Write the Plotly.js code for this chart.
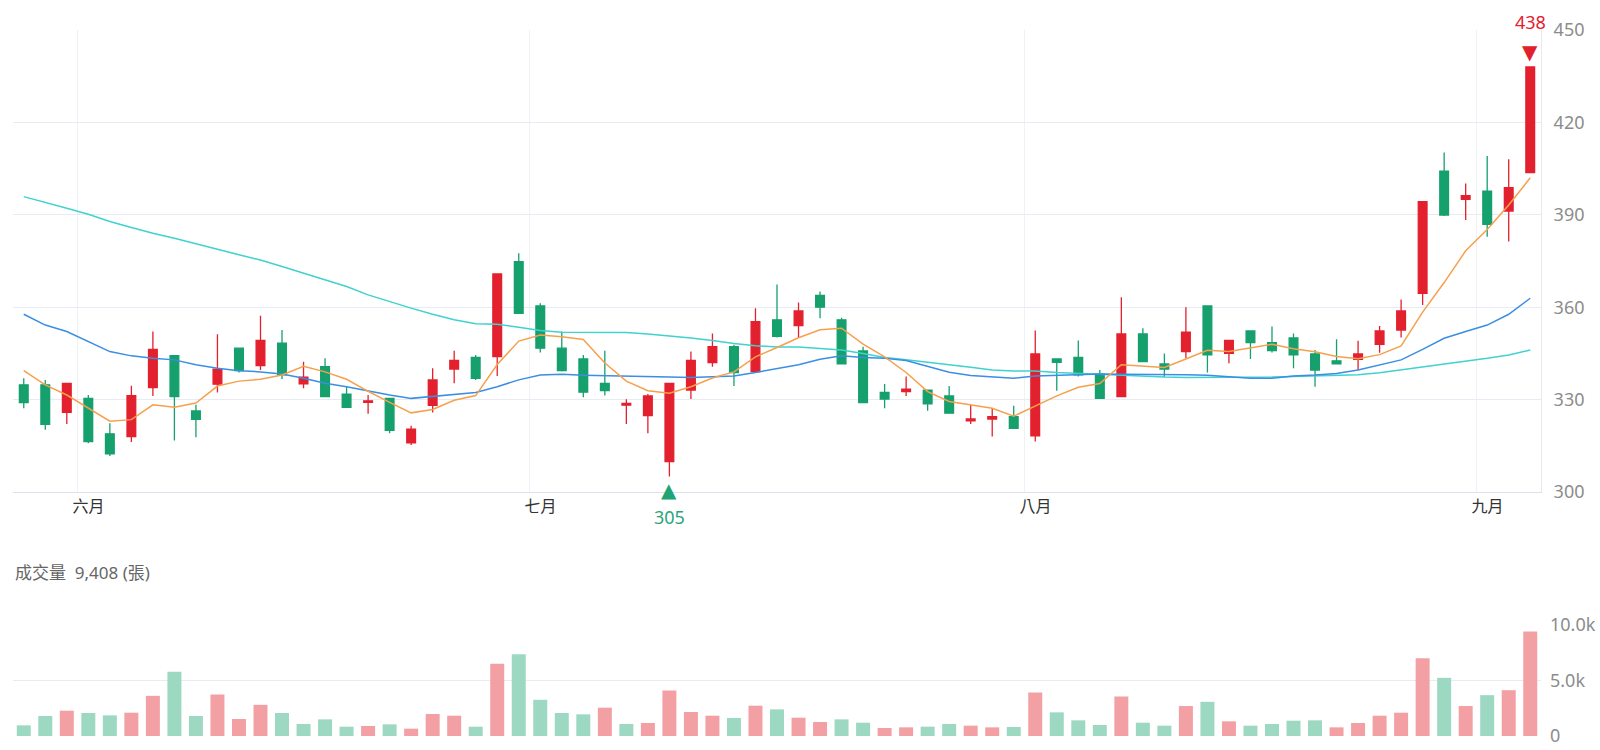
<!DOCTYPE html>
<html>
<head>
<meta charset="utf-8">
<script src="https://cdn.plot.ly/plotly-3.0.1.min.js"></script>
<style>html,body{margin:0;padding:0;background:#fff;}#chart{width:1600px;height:750px;}</style>
</head>
<body>
<div id="chart"></div>
<script>
// Trading days (2025-05-27 .. 2025-09-03)
const dates = [
  "2025-05-27","2025-05-28","2025-05-29",
  "2025-06-02","2025-06-03","2025-06-04","2025-06-05","2025-06-06",
  "2025-06-09","2025-06-10","2025-06-11","2025-06-12","2025-06-13",
  "2025-06-16","2025-06-17","2025-06-18","2025-06-19","2025-06-20",
  "2025-06-23","2025-06-24","2025-06-25","2025-06-26","2025-06-27","2025-06-30",
  "2025-07-01","2025-07-02","2025-07-03","2025-07-04",
  "2025-07-07","2025-07-08","2025-07-09","2025-07-10","2025-07-11",
  "2025-07-14","2025-07-15","2025-07-16","2025-07-17","2025-07-18",
  "2025-07-21","2025-07-22","2025-07-23","2025-07-24","2025-07-25",
  "2025-07-28","2025-07-29","2025-07-30","2025-07-31",
  "2025-08-01",
  "2025-08-04","2025-08-05","2025-08-06","2025-08-07","2025-08-08",
  "2025-08-11","2025-08-12","2025-08-13","2025-08-14","2025-08-15",
  "2025-08-18","2025-08-19","2025-08-20","2025-08-21","2025-08-22",
  "2025-08-25","2025-08-26","2025-08-27","2025-08-28","2025-08-29",
  "2025-09-01","2025-09-02","2025-09-03"
];
const monthNames = ["一月","二月","三月","四月","五月","六月","七月","八月","九月","十月","十一月","十二月"];

const opens = [334.8,334.8,325.9,330.4,318.9,318.0,333.9,344.3,326.3,335.0,
  346.7,341.0,348.3,335.1,340.7,331.8,329.1,330.4,316.0,328.1,
  339.9,343.7,344.0,374.8,360.4,346.7,343.2,335.3,328.2,324.8,
  309.9,333.1,342.0,347.2,339.1,355.9,354.0,363.8,355.9,345.8,
  332.3,332.6,333.1,331.2,323.1,323.7,324.5,318.2,343.2,343.7,
  338.3,331.0,351.3,341.6,345.6,360.4,345.0,352.3,348.5,350.0,
  344.8,342.6,343.1,347.9,352.6,364.5,404.2,395.0,397.7,391.2,403.7];
const highs = [336.9,336.4,335.3,331.5,322.3,334.5,352.1,344.3,328.3,351.2,
  346.7,357.2,352.6,342.3,343.4,334.2,331.5,330.4,321.5,340.2,
  345.9,344.5,370.8,377.5,361.3,352.1,344.5,345.9,330.1,331.8,
  335.3,345.6,351.5,347.8,359.7,367.4,361.5,365.1,356.6,347.2,
  335.1,337.5,333.1,334.4,328.3,327.2,328.0,352.4,343.2,349.2,
  339.6,363.2,353.2,345.0,360.0,360.4,349.2,352.3,353.7,351.5,
  346.1,349.6,349.1,353.9,362.5,394.3,410.2,400.2,409.1,408.0,438.0];
const lows = [327.2,320.2,322.1,315.8,311.7,316.2,331.2,316.7,317.8,332.3,
  338.8,339.6,336.7,333.7,330.8,327.5,325.4,319.1,315.3,325.8,
  335.3,336.4,337.7,358.0,345.3,339.1,330.8,331.3,322.1,319.1,
  305.0,330.2,340.7,334.4,339.1,350.2,350.0,356.4,341.6,329.0,
  327.2,331.2,326.4,325.6,322.1,318.0,320.7,316.4,332.9,337.5,
  330.4,331.0,342.3,337.3,343.4,338.8,341.8,343.2,345.3,340.2,
  334.2,341.6,339.6,345.2,350.2,360.7,389.6,388.3,382.9,381.3,403.5];
const closes = [329.0,322.0,335.3,316.4,312.4,331.3,346.3,331.0,323.6,339.9,
  339.4,349.2,338.0,337.3,331.0,327.5,329.6,320.0,320.4,336.4,
  342.7,336.9,370.8,358.0,346.7,339.4,332.4,332.9,328.8,331.2,
  335.3,342.7,347.2,338.8,355.3,350.5,358.8,360.0,341.6,329.0,
  330.2,333.4,328.6,325.6,323.7,324.5,320.7,344.8,342.1,338.0,
  330.4,351.3,342.3,339.9,351.9,344.5,349.2,348.5,345.9,344.5,
  339.6,341.6,344.8,352.3,358.8,394.3,389.9,396.2,386.9,398.8,438.0];

// Moving averages
const ma5 = [339.4,334.8,331.5,327.2,323.0,323.5,328.3,327.5,328.9,334.4,
  336.0,336.6,338.0,340.8,339.0,336.6,332.7,329.1,325.7,326.8,
  329.8,331.3,341.4,349.0,351.0,350.4,349.5,341.9,336.0,332.9,
  332.1,334.2,337.0,339.0,343.9,346.9,350.1,352.7,353.2,348.0,
  343.9,338.8,332.6,329.4,328.3,327.2,324.6,327.9,331.2,334.0,
  335.2,341.3,340.8,340.4,343.2,346.0,345.6,346.8,348.0,346.5,
  345.5,344.0,343.3,344.6,347.4,358.4,368.0,378.3,385.2,393.2,402.0];
const ma20 = [357.7,354.2,352.1,348.8,345.6,344.2,343.4,342.9,341.3,340.2,
  339.4,339.0,338.3,336.9,335.3,334.2,332.8,331.5,330.4,331.0,
  331.5,332.3,334.2,336.4,338.0,338.2,337.9,337.7,337.5,337.5,
  337.3,337.2,337.5,337.7,338.8,340.0,341.3,343.1,344.2,343.7,
  343.4,342.7,340.7,338.9,337.8,337.3,336.9,337.7,337.9,338.1,
  338.3,338.2,338.2,338.1,338.1,337.9,337.5,336.9,336.9,337.7,
  338.0,338.5,339.6,341.2,342.9,346.3,349.9,352.1,354.2,357.7,362.9];
const ma60 = [395.9,393.9,392.1,390.2,387.8,385.9,384.0,382.4,380.5,378.8,
  377.0,375.3,373.2,371.0,368.8,366.7,364.0,361.8,359.7,357.7,
  355.9,354.6,354.5,353.5,352.4,351.9,351.8,351.9,351.8,351.3,
  350.7,350.0,349.2,348.2,347.5,347.1,347.1,346.7,346.1,345.0,
  343.7,342.9,342.0,341.3,340.5,339.6,339.3,339.3,338.8,338.5,
  338.2,337.8,337.5,337.3,337.2,337.2,337.2,337.2,337.3,337.5,
  337.7,337.8,338.1,338.7,339.6,340.7,341.4,342.3,343.4,344.5,346.1];

// Volume (張) and its up(1)/down(-1) flag as shown in the picture
const volumes = [960,1800,2280,2070,1860,2100,3620,5780,1800,3740,
  1530,2810,2070,1080,1500,840,900,1050,660,1980,
  1830,840,6500,7370,3260,2070,1950,2550,1080,1170,
  4100,2160,1830,1620,2730,2400,1650,1260,1500,1200,
  720,780,840,1080,930,780,810,3920,2130,1410,
  990,3560,1200,930,2700,3080,1320,930,1080,1380,
  1410,780,1170,1830,2100,7010,5240,2700,3680,4130,9408];
const volDir = [-1,-1,1,-1,-1,1,1,-1,-1,1,
  1,1,-1,-1,-1,-1,1,-1,1,1,
  1,-1,1,-1,-1,-1,-1,1,-1,1,
  1,1,1,-1,1,-1,1,1,-1,-1,
  1,1,-1,-1,1,1,-1,1,-1,-1,
  -1,1,-1,-1,1,-1,1,-1,-1,-1,
  -1,1,1,1,1,1,-1,1,-1,1,1];

const RED = "#e3202d", GREEN = "#15a06d";
const VRED = "#f3a0a4", VGREEN = "#9dd8c2";
const FONT = "'Noto Sans', 'Noto Sans CJK TC', sans-serif";
const CJK = "'Noto Sans CJK TC', 'Noto Sans', sans-serif";

const idx = dates.map((d, i) => i);

// month ticks: gridline between months, label on first trading day
const tickVals = [], tickText = [];
for (let i = 1; i < dates.length; i++) {
  if (dates[i].slice(5, 7) !== dates[i - 1].slice(5, 7)) {
    tickVals.push(i - 0.5);
    tickText.push(monthNames[parseInt(dates[i].slice(5, 7), 10) - 1]);
  }
}

// extremes
let hiI = 0, loI = 0;
highs.forEach((v, i) => { if (v > highs[hiI]) hiI = i; });
lows.forEach((v, i) => { if (v < lows[loI]) loI = i; });

const traces = [
  {
    type: "candlestick", x: idx, open: opens, high: highs, low: lows, close: closes,
    xaxis: "x", yaxis: "y",
    increasing: { line: { color: RED, width: 1.3 }, fillcolor: RED },
    decreasing: { line: { color: GREEN, width: 1.3 }, fillcolor: GREEN },
    whiskerwidth: 0, hoverinfo: "skip"
  },
  { type: "scatter", mode: "lines", x: idx, y: ma60, xaxis: "x", yaxis: "y",
    line: { color: "#3fd2cf", width: 1.5 }, hoverinfo: "skip" },
  { type: "scatter", mode: "lines", x: idx, y: ma20, xaxis: "x", yaxis: "y",
    line: { color: "#3a8ee3", width: 1.5 }, hoverinfo: "skip" },
  { type: "scatter", mode: "lines", x: idx, y: ma5, xaxis: "x", yaxis: "y",
    line: { color: "#f6a04d", width: 1.5 }, hoverinfo: "skip" },
  {
    type: "bar", x: idx, y: volumes, xaxis: "x2", yaxis: "y2",
    marker: { color: volDir.map(d => d > 0 ? VRED : VGREEN), line: { width: 0 } },
    hoverinfo: "skip"
  }
];

const gridC = "#e8ebf3";
const layout = {
  width: 1600, height: 750,
  margin: { l: 13, r: 59, t: 30, b: 14 },
  paper_bgcolor: "#fff", plot_bgcolor: "#fff",
  showlegend: false, hovermode: false,
  font: { family: FONT, color: "#333" },
  boxgap: 0.42, bargap: 0.35,
  xaxis: {
    domain: [0, 1], anchor: "y", range: [-0.5, dates.length - 0.5],
    tickmode: "array", tickvals: tickVals, ticktext: tickText,
    ticklabelshift: 11, ticks: "", showgrid: true, gridcolor: "#eff1f6",
    showline: true, linecolor: "#dde1ea", linewidth: 1, zeroline: false,
    tickfont: { size: 16, color: "#333", family: CJK },
    rangeslider: { visible: false }, fixedrange: true
  },
  yaxis: {
    domain: [0.3456, 1], anchor: "x", side: "right", range: [300, 450],
    tick0: 300, dtick: 30, showgrid: true, gridcolor: gridC, zeroline: false,
    showline: true, linecolor: "#e6e9f0", linewidth: 1, ticks: "",
    tickfont: { size: 18, color: "#8c8c8c", family: FONT }, ticklabelstandoff: 8,
    fixedrange: true
  },
  xaxis2: {
    domain: [0, 1], anchor: "y2", matches: "x", showticklabels: false,
    showgrid: false, zeroline: false, showline: false, ticks: "", fixedrange: true
  },
  yaxis2: {
    domain: [0, 0.1572], anchor: "x2", side: "right", range: [0, 10000],
    tickmode: "array", tickvals: [0, 5000, 10000], ticktext: ["0", "5.0k", "10.0k"],
    showgrid: true, gridcolor: gridC, zeroline: false, showline: false, ticks: "",
    tickfont: { size: 18, color: "#8c8c8c", family: FONT }, ticklabelstandoff: 8,
    fixedrange: true
  },
  annotations: [
    { xref: "x", yref: "y", x: hiI, y: highs[hiI], text: "▼", showarrow: false,
      yanchor: "middle", yshift: 15, font: { size: 20, color: RED, family: "DejaVu Sans" } },
    { xref: "x", yref: "y", x: hiI, y: highs[hiI], text: String(Math.round(highs[hiI])),
      showarrow: false, yanchor: "middle", yshift: 45, font: { size: 18, color: RED, family: FONT } },
    { xref: "x", yref: "y", x: loI, y: lows[loI], text: "▲", showarrow: false,
      yanchor: "middle", yshift: -13, font: { size: 20, color: "#1fa574", family: "DejaVu Sans" } },
    { xref: "x", yref: "y", x: loI, y: lows[loI], text: String(Math.round(lows[loI])),
      showarrow: false, yanchor: "middle", yshift: -40, font: { size: 18, color: "#2aa57b", family: FONT } },
    { xref: "paper", yref: "paper", x: 0, y: 0.2309, xanchor: "left", yanchor: "middle",
      showarrow: false,
      text: "成交量&nbsp;&nbsp;" + volumes[volumes.length - 1].toLocaleString("en-US") + " (張)",
      font: { size: 17, color: "#666", family: FONT } }
  ]
};

Plotly.newPlot("chart", traces, layout, { displayModeBar: false, staticPlot: true });
</script>
</body>
</html>
